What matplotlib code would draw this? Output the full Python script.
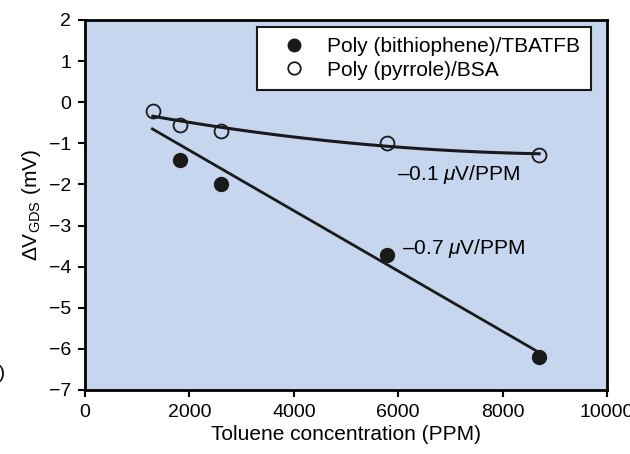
import numpy as np
from matplotlib import pyplot as plt

plt.rcParams['font.family'] = ['Liberation Sans', 'DejaVu Sans']
plt.rcParams['mathtext.fontset'] = 'custom'
plt.rcParams['mathtext.rm'] = 'Liberation Sans'
plt.rcParams['mathtext.it'] = 'Liberation Sans:italic'

# toluene concentration (PPM) and gate-drain-source shift (mV)
x_bithiophene = [1820, 2610, 5780, 8700]
y_bithiophene = [-1.41, -1.99, -3.72, -6.2]
x_pyrrole = [1300, 1820, 2610, 5780, 8700]
y_pyrrole = [-0.21, -0.55, -0.70, -0.99, -1.28]

# trend line of the bithiophene film as drawn in the figure
fit_bithiophene_x = [1290, 8690]
fit_bithiophene_y = [-0.65, -6.08]

labels = ["Poly (bithiophene)/TBATFB", "Poly (pyrrole)/BSA"]
slope_labels = ["\u20130.7 $\\mu$V/PPM", "\u20130.1 $\\mu$V/PPM"]

fig = plt.figure(figsize=(6.3, 4.54), dpi=100)
ax = fig.add_axes([0.135, 0.141, 0.8285, 0.815])
ax.set_facecolor('#c6d6ee')

ax.plot(fit_bithiophene_x, fit_bithiophene_y, color='#1a1a1a', lw=2)
xx = np.linspace(1300, 8700, 100)
quad = np.polyfit(x_pyrrole, y_pyrrole, 2)
ax.plot(xx, np.polyval(quad, xx), color='#1a1a1a', lw=2.2)

ax.plot(x_bithiophene, y_bithiophene, 'o', color='#1a1a1a', ms=10,
        label=labels[0])
ax.plot(x_pyrrole, y_pyrrole, 'o', mfc='none', mec='#1a1a1a', mew=1.3,
        ms=10, label=labels[1])

ax.text(6080, -3.57, slope_labels[0], fontsize=15, va='center')
ax.text(5970, -1.77, slope_labels[1], fontsize=15, va='center')

ax.set_xlim(0, 10000)
ax.set_ylim(-7, 2)
ax.set_xticks(range(0, 10001, 2000))
ax.set_yticks(range(-7, 3))
ax.tick_params(direction='out', length=5, width=1.5, labelsize=14, pad=5)
for s in ax.spines.values():
    s.set_linewidth(2)

ax.set_xlabel("Toluene concentration (PPM)", fontsize=15, labelpad=3)
ax.set_ylabel("$\\Delta$V$_{\\rm GDS}$ (mV)", fontsize=15, labelpad=4)

leg = ax.legend(loc='upper right', bbox_to_anchor=(0.969, 0.981), fontsize=15,
                frameon=True, fancybox=False, edgecolor='#1a1a1a',
                framealpha=1, borderpad=0.5, handlelength=2.6,
                handletextpad=0.3, labelspacing=0.2, markerscale=0.9,
                borderaxespad=0)
leg.get_frame().set_linewidth(1.5)

# fragment of a panel label cut off by the crop
fig.text(0.009, 0.178, "(a)", fontsize=14, ha='right', va='center')

fig.savefig('out.png', dpi=100)
